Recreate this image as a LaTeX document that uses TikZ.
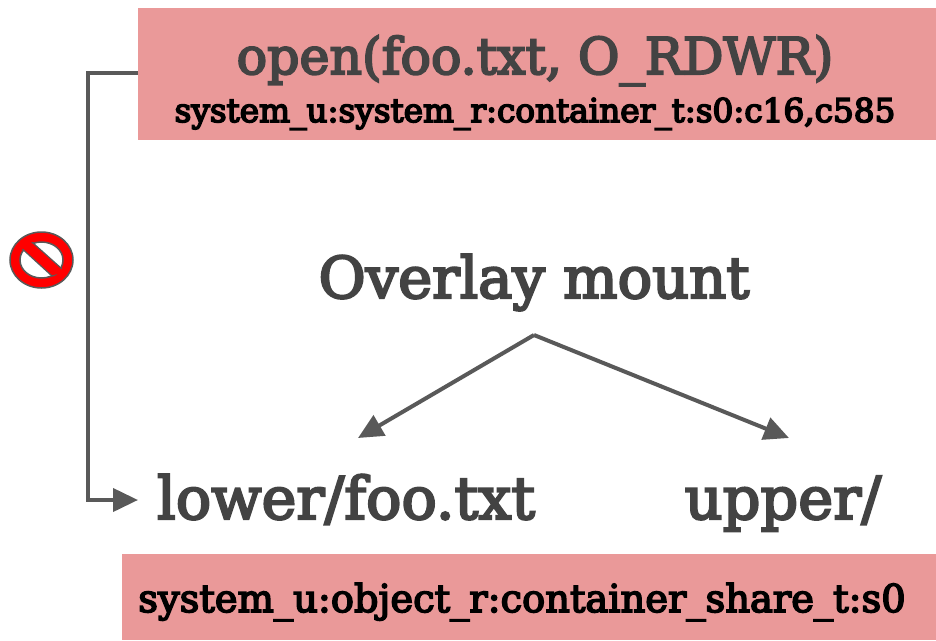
\documentclass[tikz,border=0pt]{standalone}
\usepackage{fontspec}
\newfontfamily\slab{DejaVu Serif}
\newcommand{\heavy}[2]{\special{pdf:code q 2 Tr #1 w}#2\special{pdf:code 0 Tr Q}}
\usetikzlibrary{arrows.meta}
\definecolor{boxc}{HTML}{EA9999}
\definecolor{txt}{HTML}{434343}
\definecolor{lin}{HTML}{595959}
\begin{document}
\begin{tikzpicture}[x=1pt,y=-1pt,
 lbl/.style={inner sep=0pt,text=txt,anchor=base},
 conn/.style={draw=lin,line width=4pt,-{Triangle[length=25pt,width=23pt]}}]
\useasboundingbox (0,0) rectangle (936,640);
\fill[boxc] (138,8) rectangle (936,140);
\fill[boxc] (122,554) rectangle (936,640);
\node (a) [lbl,font=\slab\fontsize{50.6}{54}\selectfont] at (535,74) {\heavy{2}{open(foo.txt, O\_RDWR)}};
\node (b) [lbl,text=black,font=\slab\fontsize{32.7}{36}\selectfont] at (535,122) {\heavy{1.6}{system\_u:system\_r:container\_t:s0:c16,c585}};
\node (c) [lbl,font=\slab\fontsize{57.5}{62}\selectfont] at (534,298) {\heavy{2.2}{Overlay mount}};
\node (d) [lbl,font=\slab\fontsize{58.8}{62}\selectfont] at (346,519) {\heavy{2.2}{lower/foo.txt}};
\node (e) [lbl,font=\slab\fontsize{59}{62}\selectfont] at (783,519) {\heavy{2.2}{upper/}};
\node (f) [lbl,text=black,font=\slab\fontsize{38.4}{42}\selectfont] at (522,612) {\heavy{1.6}{system\_u:object\_r:container\_share\_t:s0}};
\coordinate (s) at (138,73);
\coordinate (t) at (138,500);
\coordinate (m) at (534,335);
\coordinate (l) at (358,438);
\coordinate (u) at (789,438);
\draw[conn] (s) -- (88,73) -- (88,500) -- (t);
\draw[conn] (m) -- (l);
\draw[conn] (m) -- (u);
\fill[red,draw=lin,line width=1.5pt] (41.5,260) ellipse (31.5 and 28);
\fill[white,draw=lin,line width=1.5pt] (41.5,260) ellipse (21.5 and 18);
\begin{scope}
\clip (41.5,260) ellipse (23 and 19.5);
\fill[red,draw=lin,line width=1.2pt] (20,238) -- (33,243) -- (66,272.5) -- (52,276) -- (18,245) -- cycle;
\end{scope}
\end{tikzpicture}
\end{document}
